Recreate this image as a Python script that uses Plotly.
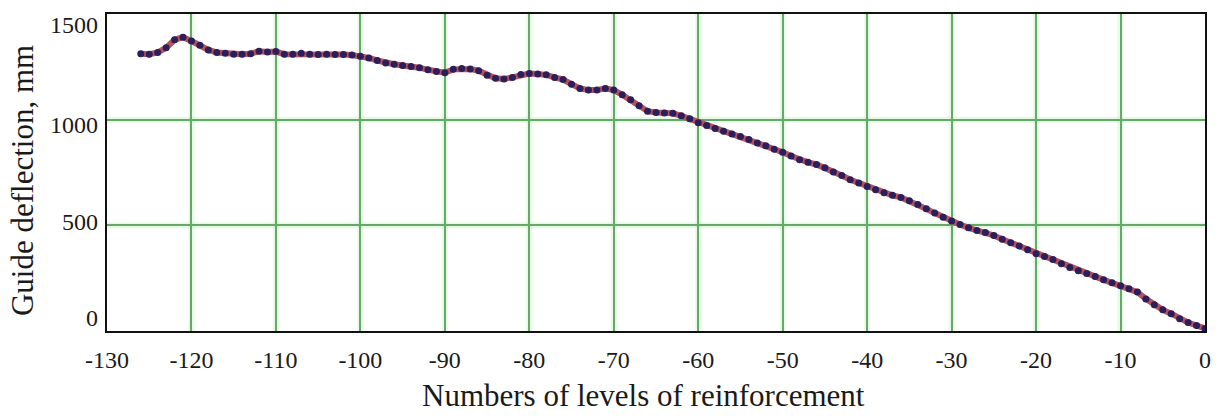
import plotly.graph_objects as go

# Level number (negative = below the top) and measured guide deflection, mm
levels = list(range(-126, 1))
deflection = [
    1312, 1310, 1318, 1340, 1378, 1390, 1372, 1352, 1330, 1318,
    1314, 1310, 1310, 1312, 1324, 1320, 1322, 1310, 1310, 1314,
    1310, 1308, 1310, 1308, 1308, 1306, 1300, 1292, 1280, 1268,
    1262, 1256, 1252, 1246, 1236, 1228, 1222, 1238, 1242, 1240,
    1232, 1210, 1196, 1192, 1200, 1214, 1218, 1216, 1212, 1200,
    1190, 1168, 1148, 1140, 1140, 1148, 1140, 1118, 1094, 1066,
    1040, 1034, 1032, 1030, 1018, 1004, 985, 972, 958, 945,
    932, 920, 906, 890, 876, 860, 846, 828, 810, 798,
    788, 772, 752, 736, 716, 700, 684, 668, 654, 642,
    632, 616, 598, 578, 558, 538, 520, 504, 488, 476,
    466, 452, 434, 418, 402, 385, 366, 352, 338, 318,
    300, 285, 272, 258, 242, 228, 214, 200, 184, 152,
    124, 100, 82, 58, 40, 26, 12,
]

x_ticks = list(range(-130, 1, 10))
x_tick_text = [str(v) for v in x_ticks]
y_ticks = [0, 500, 1000, 1500]
# vertical nudge of each y label (px, up is positive)
y_label_nudge = [13, 3, -5, -11]

font_family = "Liberation Serif, Times New Roman, serif"
text_color = "#1a1a1a"
halo = "rgba(170,235,170,0.28)"

fig = go.Figure()
fig.add_trace(go.Scatter(
    x=levels, y=deflection, mode="lines",
    line=dict(color="#b5525a", width=6),
    hoverinfo="skip", showlegend=False,
))
fig.add_trace(go.Scatter(
    x=levels, y=deflection, mode="markers",
    marker=dict(color="#2a1f5c", size=7),
    showlegend=False,
))

axis_common = dict(
    showline=True, linecolor="#111111", linewidth=2, mirror=True,
    showgrid=True, gridcolor="#66a866", gridwidth=2,
    zeroline=False, ticks="", ticklen=0,
    tickfont=dict(family=font_family, size=24, color=text_color),
)

fig.update_xaxes(range=[-130, 0], tickvals=x_ticks, ticktext=x_tick_text,
                 ticklabelstandoff=6, **axis_common)
fig.update_yaxes(range=[0, 1500], tickvals=y_ticks, showticklabels=False,
                 **axis_common)

# soft glow around the grid lines
for v in x_ticks[1:-1]:
    fig.add_shape(type="line", xref="x", yref="paper", x0=v, x1=v, y0=0, y1=1,
                  line=dict(color=halo, width=6), layer="below")
for v in y_ticks[1:-1]:
    fig.add_shape(type="line", xref="paper", yref="y", x0=0, x1=1, y0=v, y1=v,
                  line=dict(color=halo, width=6), layer="below")

for val, nudge in zip(y_ticks, y_label_nudge):
    fig.add_annotation(
        text=str(val), xref="paper", yref="y", x=0, y=val,
        xanchor="right", yanchor="middle", xshift=-7, yshift=nudge,
        showarrow=False,
        font=dict(family=font_family, size=24, color=text_color),
    )

fig.add_annotation(
    text="Numbers of levels of reinforcement",
    xref="paper", yref="paper", x=(646 - 107) / 1103, y=-0.205,
    xanchor="center", yanchor="middle", showarrow=False,
    font=dict(family=font_family, size=31, color=text_color),
)
fig.add_annotation(
    text="Guide deflection, mm",
    xref="paper", yref="paper", x=-0.0775, y=0.476, textangle=-90,
    xanchor="center", yanchor="middle", showarrow=False,
    font=dict(family=font_family, size=31, color=text_color),
)

fig.update_layout(
    width=1223, height=419,
    margin=dict(l=107, r=13, t=14, b=88),
    paper_bgcolor="white", plot_bgcolor="white",
)

fig.write_html("out.html")
